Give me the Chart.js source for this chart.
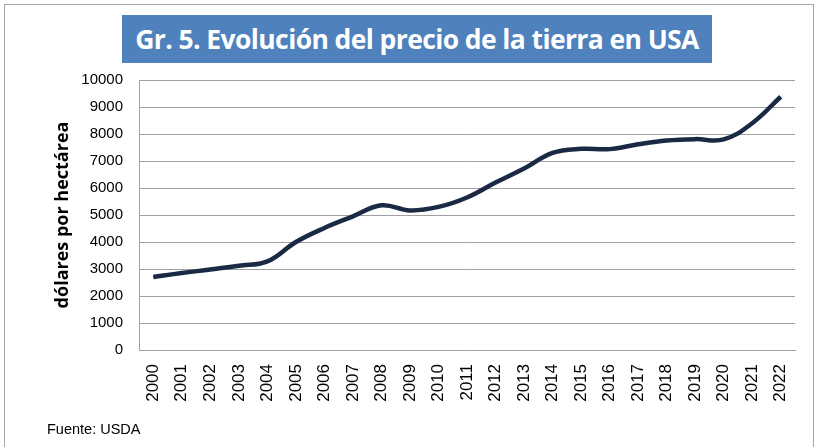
<!DOCTYPE html>
<html>
<head>
<meta charset="utf-8">
<script src="https://cdn.jsdelivr.net/npm/chart.js@4/dist/chart.umd.min.js"></script>
<style>
    html, body { margin: 0; padding: 0; background: #fff; }
    #wrap { position: relative; width: 820px; height: 447px; overflow: hidden; }
    #frame { position: absolute; left: 4px; top: 4px; width: 810px; height: 460px; border: 1px solid #a6a6a6; box-sizing: border-box; }
    #title {
        position: absolute; left: 122px; top: 15px; width: 590px; height: 48px;
        background: #4f81bd; color: #fff; font: bold 26.5px 'Open Sans', sans-serif;
        line-height: 48px; text-align: center; letter-spacing: -0.6px;
    }
    #source { position: absolute; left: 47px; top: 421px; font: 14.5px 'Liberation Sans', Arial, sans-serif; color: #000; }
    canvas { position: absolute; left: 0; top: 0; }
</style>
</head>
<body>
<div id="wrap">
    <div id="frame"></div>
    <canvas id="chart" width="820" height="447"></canvas>
    <div id="title">Gr. 5. Evolución del precio de la tierra en USA</div>
    <div id="source">Fuente: USDA</div>
</div>
<script>
const years = ['2000', '2001', '2002', '2003', '2004', '2005', '2006', '2007', '2008', '2009', '2010', '2011',
    '2012', '2013', '2014', '2015', '2016', '2017', '2018', '2019', '2020', '2021', '2022'];
const precio = [2700, 2850, 2980, 3120, 3280, 4000, 4520, 4950, 5360, 5170, 5300, 5650,
    6200, 6720, 7300, 7450, 7440, 7620, 7760, 7810, 7800, 8400, 9380];
const yTicks = [0, 1000, 2000, 3000, 4000, 5000, 6000, 7000, 8000, 9000, 10000];

const GRID = '#a0a0a0';
const LINE = '#1b2a44';

new Chart(document.getElementById('chart'), {
    type: 'line',
    data: {
        labels: years,
        datasets: [{
            data: precio,
            borderColor: LINE,
            borderWidth: 4.5,
            tension: 0.4,
            pointRadius: 0,
            fill: false,
        }],
    },
    options: {
        responsive: false,
        animation: false,
        layout: { padding: { left: 0, top: 80, right: 25, bottom: 0 } },
        plugins: { legend: { display: false }, tooltip: { enabled: false } },
        scales: {
            x: {
                offset: true,
                grid: { display: false, drawTicks: false },
                border: { color: GRID, width: 1 },
                ticks: {
                    minRotation: 90, maxRotation: 90, padding: 14, color: '#000',
                    font: { family: "'Liberation Sans', Arial, sans-serif", size: 17 },
                },
                afterFit: (s) => { s.height = 97; },
            },
            y: {
                min: 0, max: 10000,
                afterBuildTicks: (s) => { s.ticks = yTicks.map((v) => ({ value: v })); },
                grid: { color: GRID, drawTicks: false },
                border: { color: GRID, width: 1 },
                ticks: {
                    padding: 16, color: '#000',
                    font: { family: "'Liberation Sans', Arial, sans-serif", size: 15 },
                    callback: (v) => String(v),
                },
                title: {
                    display: true, text: 'dólares por hectárea', color: '#000',
                    font: { family: "'Open Sans', sans-serif", size: 18, weight: 'bold' },
                    padding: { top: 52, bottom: 0 },
                },
                afterFit: (s) => { s.width = 139; },
            },
        },
    },
});
</script>
</body>
</html>
